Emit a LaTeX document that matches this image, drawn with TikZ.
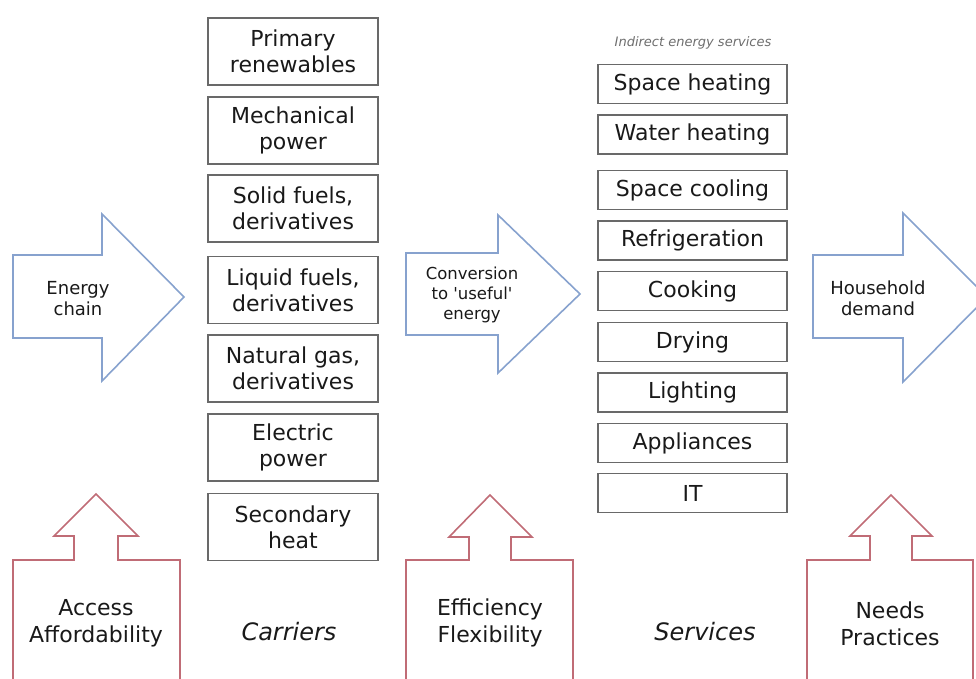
\documentclass[tikz,border=0pt]{standalone}
\usepackage{fontspec}
\setmainfont{DejaVu Sans}
\definecolor{arrowblue}{RGB}{135,162,206}
\definecolor{arrowred}{RGB}{192,108,118}
\definecolor{boxgray}{RGB}{105,105,105}
\definecolor{txt}{RGB}{25,25,25}
\definecolor{smallgray}{RGB}{110,110,110}
\begin{document}
\begin{tikzpicture}[x=1pt,y=-1pt,
  carrier/.style={draw=boxgray, line width=1.3pt, minimum width=170pt, minimum height=67pt,
    align=center, font=\fontsize{22}{26}\selectfont, text=txt, inner sep=0pt},
  service/.style={draw=boxgray, line width=1.3pt, minimum width=189pt, minimum height=39pt,
    font=\fontsize{22}{26}\selectfont, text=txt, inner sep=0pt},
  bluearrow/.style={draw=arrowblue, line width=1.6pt, line join=miter},
  redarrow/.style={draw=arrowred, line width=1.6pt, line join=miter},
  arrowtext/.style={align=center, font=\fontsize{18}{21}\selectfont, text=txt, inner sep=0pt},
  redtext/.style={align=center, font=\fontsize{22}{27}\selectfont, text=txt, inner sep=0pt},
  coltitle/.style={font=\fontsize{24}{28}\selectfont\itshape, text=txt, inner sep=0pt}]
\useasboundingbox (0,0) rectangle (976,679);
\clip (0,0) rectangle (976,679);

% blue arrows
\draw[bluearrow] (13,255) -- (102,255) -- (102,214) -- (184,297) -- (102,381) -- (102,338) -- (13,338) -- cycle;
\draw[bluearrow] (406,253) -- (498,253) -- (498,215) -- (580,294) -- (498,373) -- (498,335) -- (406,335) -- cycle;
\draw[bluearrow] (813,255) -- (903,255) -- (903,213) -- (987,297) -- (903,382) -- (903,338) -- (813,338) -- cycle;

\node[arrowtext] (chain) at (78,299) {Energy\\chain};
\node[arrowtext, font=\fontsize{16.5}{20}\selectfont] (conv) at (472,295) {Conversion\\to \textquotesingle useful\textquotesingle\\energy};
\node[arrowtext] (house) at (878,298) {Household\\demand};

% red arrows
\draw[redarrow] (13,690) -- (13,560) -- (74,560) -- (74,536) -- (54,536) -- (96,494) -- (138,536) -- (118,536) -- (118,560) -- (180,560) -- (180,690);
\draw[redarrow] (406,690) -- (406,560) -- (469,560) -- (469,537) -- (449,537) -- (490,495) -- (532,537) -- (511,537) -- (511,560) -- (573,560) -- (573,690);
\draw[redarrow] (807,690) -- (807,560) -- (870,560) -- (870,536) -- (850,536) -- (891,495) -- (932,536) -- (912,536) -- (912,560) -- (973,560) -- (973,690);

\node[redtext] (access) at (96,623) {Access\\Affordability};
\node[redtext] (eff) at (490,623) {Efficiency\\Flexibility};
\node[redtext] (needs) at (890,624) {Needs\\Practices};

% carriers
\node[carrier] (c1) at (293,51.5) {Primary\\renewables};
\node[carrier] (c2) at (293,130.5) {Mechanical\\power};
\node[carrier] (c3) at (293,208.5) {Solid fuels,\\derivatives};
\node[carrier] (c4) at (293,290) {Liquid fuels,\\derivatives};
\node[carrier] (c5) at (293,368.5) {Natural gas,\\derivatives};
\node[carrier] (c6) at (293,447.5) {Electric\\power};
\node[carrier] (c7) at (293,527) {Secondary\\heat};
\node[coltitle] (carriers) at (289,632) {Carriers};

% services
\node[font=\fontsize{13}{15}\selectfont\itshape, text=smallgray] (indirect) at (693,43) {Indirect energy services};
\node[service] (s1) at (692.5,84) {Space heating};
\node[service] (s2) at (692.5,134.5) {Water heating};
\node[service] (s3) at (692.5,190) {Space cooling};
\node[service] (s4) at (692.5,240.5) {Refrigeration};
\node[service] (s5) at (692.5,291) {Cooking};
\node[service] (s6) at (692.5,342) {Drying};
\node[service] (s7) at (692.5,392.5) {Lighting};
\node[service] (s8) at (692.5,443) {Appliances};
\node[service] (s9) at (692.5,493) {IT};
\node[coltitle] (services) at (705,632) {Services};
\end{tikzpicture}
\end{document}
